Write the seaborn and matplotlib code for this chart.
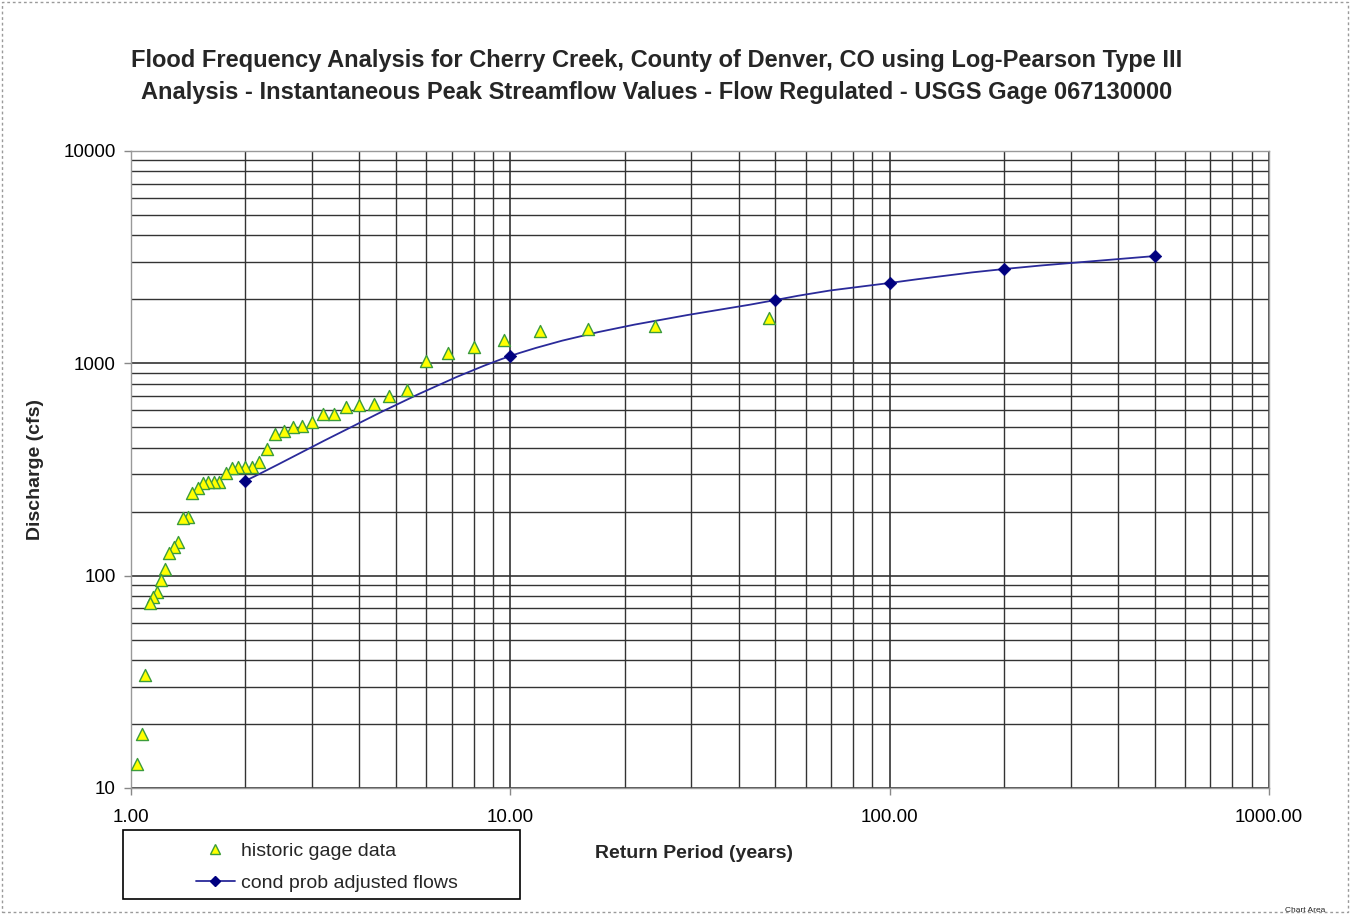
import numpy as np
import pandas as pd
import matplotlib
matplotlib.use("Agg")
import matplotlib.pyplot as plt
import seaborn as sns
from matplotlib.path import Path
from matplotlib.patches import PathPatch, Rectangle
from matplotlib.lines import Line2D
from matplotlib.ticker import FixedLocator, FixedFormatter, LogLocator, NullFormatter

# ---------------- data ----------------
gage_return_period = [48.00, 24.00, 16.00, 12.00, 9.60, 8.00, 6.86, 6.00, 5.33, 4.80,
                      4.36, 4.00, 3.69, 3.43, 3.20, 3.00, 2.82, 2.67, 2.53, 2.40,
                      2.29, 2.18, 2.09, 2.00, 1.92, 1.85, 1.78, 1.71, 1.66, 1.60,
                      1.55, 1.50, 1.45, 1.41, 1.37, 1.33, 1.30, 1.26, 1.23, 1.20,
                      1.17, 1.14, 1.12, 1.09, 1.07, 1.04]
gage_discharge = [1630, 1495, 1447, 1416, 1285, 1191, 1116, 1023, 747, 700,
                  642, 635, 621, 576, 576, 528, 506, 500, 479, 464,
                  394, 342, 324, 324, 324, 321, 304, 276, 276, 276,
                  273, 258, 244, 189, 187, 144, 136, 128, 107, 95,
                  84, 79, 74, 34, 18, 13]
adj_return_period = [2, 10, 50, 100, 200, 500]
adj_discharge = [279, 1080, 1982, 2384, 2773, 3192]

x_tick_values = [1, 10, 100, 1000]
x_tick_labels = ["1.00", "10.00", "100.00", "1000.00"]
y_tick_values = [10, 100, 1000, 10000]
y_tick_labels = ["10", "100", "1000", "10000"]

title_line1 = "Flood Frequency Analysis for Cherry Creek, County of Denver, CO using Log-Pearson Type III"
title_line2 = "Analysis - Instantaneous Peak Streamflow Values - Flow Regulated - USGS Gage 067130000"
x_label = "Return Period (years)"
y_label = "Discharge (cfs)"
legend_labels = ["historic gage data", "cond prob adjusted flows"]

gage_df = pd.DataFrame({"T": gage_return_period, "Q": gage_discharge})
adj_df = pd.DataFrame({"T": adj_return_period, "Q": adj_discharge})

# ---------------- style ----------------
sns.set_style("white")
plt.rcParams["font.family"] = ["Liberation Sans", "DejaVu Sans"]

W, H = 1351, 915
fig = plt.figure(figsize=(W / 100, H / 100), dpi=100)
fig.patch.set_facecolor("white")

ax = fig.add_axes([131 / W, 1 - 788 / H, (1269 - 131) / W, (788 - 150.7) / H])
ax.set_xscale("log")
ax.set_yscale("log")
ax.set_xlim(1, 1000)
ax.set_ylim(10, 10000)

grid_color = "#333333"
ax.xaxis.set_major_locator(FixedLocator(x_tick_values))
ax.xaxis.set_major_formatter(FixedFormatter(x_tick_labels))
ax.yaxis.set_major_locator(FixedLocator(y_tick_values))
ax.yaxis.set_major_formatter(FixedFormatter(y_tick_labels))
ax.xaxis.set_minor_locator(LogLocator(base=10, subs=range(2, 10)))
ax.yaxis.set_minor_locator(LogLocator(base=10, subs=range(2, 10)))
ax.xaxis.set_minor_formatter(NullFormatter())
ax.yaxis.set_minor_formatter(NullFormatter())
ax.grid(True, which="major", color=grid_color, lw=1.2)
ax.grid(True, which="minor", color=grid_color, lw=1.0)
ax.set_axisbelow(True)

ax.tick_params(axis="both", which="major", direction="out", length=5, width=1,
               color="#888888", labelsize=13.5, labelcolor="black", pad=6,
               bottom=True, left=True)
ax.tick_params(axis="x", which="major", pad=10)
ax.tick_params(axis="both", which="minor", length=0)
for s in ax.spines.values():
    s.set_color("#999999")
    s.set_linewidth(1.0)

# ---------------- smoothed adjusted-flow curve (Bezier in log space) ----------------
navy = "#000080"
line_color = "#2a2a9a"
lx = np.log10(adj_df["T"].to_numpy(float))
ly = np.log10(adj_df["Q"].to_numpy(float))
P = np.column_stack([lx, ly])
Pext = np.vstack([P[0], P, P[-1]])
verts = [P[0]]
codes = [Path.MOVETO]
for i in range(len(P) - 1):
    p0, p1, p2, p3 = Pext[i], Pext[i + 1], Pext[i + 2], Pext[i + 3]
    c1 = p1 + (p2 - p0) / 6.0
    c2 = p2 - (p3 - p1) / 6.0
    verts += [c1, c2, p2]
    codes += [Path.CURVE4] * 3
verts = 10 ** np.array(verts)
ax.add_patch(PathPatch(Path(verts, codes), fill=False, ec=line_color, lw=1.3, zorder=3))

# ---------------- markers ----------------
sns.scatterplot(data=gage_df, x="T", y="Q", marker="^", s=75, color="#ffff00",
                edgecolor="#3c9c3c", linewidth=1.0, ax=ax, zorder=4, legend=False)
sns.scatterplot(data=adj_df, x="T", y="Q", marker="D", s=40, color=navy,
                edgecolor=navy, linewidth=0.5, ax=ax, zorder=5, legend=False)
ax.set_xlabel("")
ax.set_ylabel("")

# ---------------- texts ----------------
fig.text(656.5 / W, 1 - 61 / H, title_line1, ha="center", va="center",
         fontsize=17, fontweight="bold")
fig.text(656.5 / W, 1 - 93 / H, title_line2, ha="center", va="center",
         fontsize=17, fontweight="bold")
fig.text(694 / W, 1 - 853 / H, x_label, ha="center", va="center",
         fontsize=14, fontweight="bold")
fig.text(35 / W, 1 - 470 / H, y_label, ha="center", va="center",
         rotation=90, fontsize=14, fontweight="bold")
fig.text(1305 / W, 1 - 910 / H, "Chart Area", ha="center", va="center", fontsize=6)

# ---------------- legend ----------------
h1 = Line2D([], [], ls="none", marker="^", ms=7, mfc="#ffff00", mec="#3c9c3c", mew=1.0)
h2 = Line2D([], [], color=line_color, lw=1.3, marker="D", ms=5.5, mfc=navy, mec=navy)
fig.legend(handles=[h1, h2], labels=legend_labels, loc="center left",
           bbox_to_anchor=(196 / W, 1 - 867 / H), frameon=False, fontsize=14,
           handlelength=2.0, handletextpad=0.3, labelspacing=0.75, borderpad=0,
           borderaxespad=0)
fig.add_artist(Rectangle((123 / W, 1 - 899 / H), (520 - 123) / W, (899 - 830) / H,
                         transform=fig.transFigure, fill=False, ec="black", lw=1.2))

# dotted chart-area border
fig.add_artist(Rectangle((2 / W, 1 - 912 / H), (1348 - 2) / W, (912 - 2) / H,
                         transform=fig.transFigure, fill=False, ec="#9a9a9a",
                         lw=1.0, ls=(0, (2, 2))))

fig.savefig("out.png", dpi=100)
